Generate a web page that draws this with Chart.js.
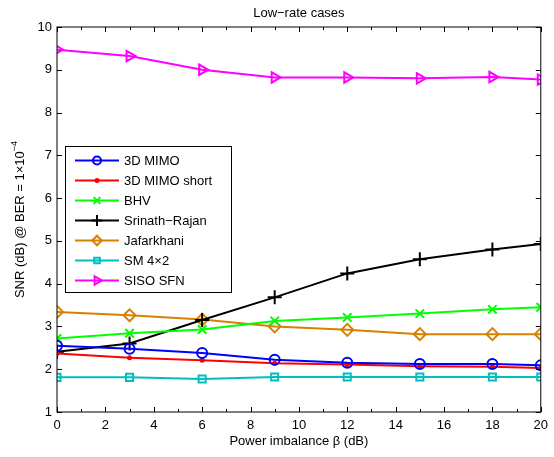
<!DOCTYPE html>
<html>
<head>
<meta charset="utf-8">
<script src="https://cdn.jsdelivr.net/npm/chart.js@4/dist/chart.umd.min.js"></script>
<style>
  html, body { margin: 0; padding: 0; background: #fff; }
  #wrap { width: 554px; height: 457px; }
</style>
</head>
<body>
<div id="wrap"><canvas id="myChart" width="554" height="457"></canvas></div>
<script>
const imbalance = [0, 3, 6, 9, 12, 15, 18, 20];
const xTicks = [0, 2, 4, 6, 8, 10, 12, 14, 16, 18, 20];
const yTicks = [1, 2, 3, 4, 5, 6, 7, 8, 9, 10];

const mimo3d      = [2.55, 2.48, 2.38, 2.22, 2.15, 2.12, 2.12, 2.09];
const mimo3dShort = [2.37, 2.27, 2.21, 2.14, 2.11, 2.07, 2.06, 2.03];
const bhv         = [2.72, 2.84, 2.93, 3.13, 3.21, 3.30, 3.40, 3.45];
const srinath     = [2.41, 2.60, 3.15, 3.68, 4.24, 4.57, 4.80, 4.93];
const jafarkhani  = [3.34, 3.26, 3.16, 3.00, 2.92, 2.82, 2.82, 2.82];
const sm42        = [1.81, 1.81, 1.77, 1.82, 1.82, 1.82, 1.82, 1.82];
const sisoSfn     = [9.47, 9.32, 9.00, 8.82, 8.82, 8.80, 8.83, 8.77];

const FONT = 'Liberation Sans, Arial, Helvetica, sans-serif';

function series(label, data, color, style, radius, rotation) {
    const dot = radius < 3;
    return {
        label: label,
        data: data.map((v, i) => ({ x: imbalance[i], y: v })),
        borderColor: color,
        backgroundColor: color,
        borderWidth: 2,
        pointStyle: style,
        pointRadius: radius,
        pointRotation: rotation || 0,
        pointBorderColor: color,
        pointBackgroundColor: dot ? color : 'rgba(0,0,0,0)',
        pointBorderWidth: 2,
        tension: 0
    };
}

const datasets = [
    series('3D MIMO', mimo3d, '#0000ff', 'circle', 5),
    series('3D MIMO short', mimo3dShort, '#ff0000', 'circle', 1.5),
    series('BHV', bhv, '#00ff00', 'crossRot', 6),
    series('Srinath\u2212Rajan', srinath, '#000000', 'cross', 7),
    series('Jafarkhani', jafarkhani, '#d98000', 'rectRot', 6),
    series('SM 4\u00d72', sm42, '#00bfbf', 'rect', 5),
    series('SISO SFN', sisoSfn, '#ff00ff', 'triangle', 6, 90)
];

// MATLAB style frame, inward ticks, title, y label and legend
const matlabFrame = {
    id: 'matlabFrame',
    afterDraw(chart) {
        const c = chart.ctx;
        const a = chart.chartArea;
        const xs = chart.scales.x, ys = chart.scales.y;
        c.save();
        c.strokeStyle = '#000';
        c.lineWidth = 1;
        c.strokeRect(a.left, a.top, a.right - a.left, a.bottom - a.top);
        c.beginPath();
        xTicks.forEach(t => {
            const px = Math.round(xs.getPixelForValue(t)) + 0.5;
            c.moveTo(px, a.bottom); c.lineTo(px, a.bottom - 5);
            c.moveTo(px, a.top); c.lineTo(px, a.top + 5);
        });
        for (let t = 1; t < 20; t += 2) {
            const px = Math.round(xs.getPixelForValue(t)) + 0.5;
            c.moveTo(px, a.bottom); c.lineTo(px, a.bottom - 3);
            c.moveTo(px, a.top); c.lineTo(px, a.top + 3);
        }
        yTicks.forEach(t => {
            const py = Math.round(ys.getPixelForValue(t)) + 0.5;
            c.moveTo(a.left, py); c.lineTo(a.left + 5, py);
            c.moveTo(a.right, py); c.lineTo(a.right - 5, py);
        });
        c.stroke();

        // title
        c.fillStyle = '#000';
        c.font = '13px ' + FONT;
        c.textAlign = 'center';
        c.textBaseline = 'middle';
        c.fillText('Low\u2212rate cases', (a.left + a.right) / 2, 13);

        // x title
        c.fillText('Power imbalance \u03b2 (dB)', (a.left + a.right) / 2, 441);

        // y title with superscript
        c.translate(20, (a.top + a.bottom) / 2);
        c.rotate(-Math.PI / 2);
        const main = 'SNR (dB) @ BER = 1\u00d710';
        c.font = '13px ' + FONT;
        const w1 = c.measureText(main).width;
        c.font = '9px ' + FONT;
        const w2 = c.measureText('\u22124').width;
        const start = -(w1 + w2) / 2;
        c.textAlign = 'left';
        c.font = '13px ' + FONT;
        c.fillText(main, start, 0);
        c.font = '9px ' + FONT;
        c.fillText('\u22124', start + w1, -5);
        c.restore();

        // legend
        c.save();
        const bx = 65.5, by = 146.5, bw = 166, bh = 146;
        c.fillStyle = '#fff';
        c.fillRect(bx, by, bw, bh);
        c.strokeStyle = '#000';
        c.lineWidth = 1;
        c.strokeRect(bx, by, bw, bh);
        c.font = '13px ' + FONT;
        c.textAlign = 'left';
        c.textBaseline = 'middle';
        chart.data.datasets.forEach((ds, i) => {
            const y = 160.5 + i * 20;
            c.strokeStyle = ds.borderColor;
            c.lineWidth = 2;
            c.beginPath();
            c.moveTo(75, y); c.lineTo(119, y);
            c.stroke();
            c.fillStyle = ds.pointBackgroundColor;
            c.strokeStyle = ds.borderColor;
            c.lineWidth = 2;
            Chart.helpers.drawPoint(c, {
                pointStyle: ds.pointStyle,
                radius: ds.pointRadius < 3 ? ds.pointRadius : ds.pointRadius * 0.8,
                rotation: ds.pointRotation,
                borderWidth: 2
            }, 97, y);
            c.fillStyle = '#000';
            c.fillText(ds.label, 124, y + 1);
        });
        c.restore();
    }
};

const ctx = document.getElementById('myChart').getContext('2d');
const chart = new Chart(ctx, {
    type: 'line',
    data: { datasets: datasets },
    options: {
        responsive: false,
        animation: false,
        layout: { padding: { top: 27, right: 11, left: 0, bottom: 0 } },
        plugins: { legend: { display: false }, tooltip: { enabled: false } },
        scales: {
            x: {
                type: 'linear',
                min: 0, max: 20,
                afterFit: s => { s.height = 45; },
                afterBuildTicks: s => { s.ticks = xTicks.map(v => ({ value: v })); },
                grid: { display: false, drawTicks: false },
                border: { display: false },
                ticks: { color: '#000', font: { size: 13, family: FONT }, padding: 6, maxRotation: 0 }
            },
            y: {
                min: 1, max: 10,
                afterFit: s => { s.width = 57; },
                afterBuildTicks: s => { s.ticks = yTicks.map(v => ({ value: v })); },
                grid: { display: false, drawTicks: false },
                border: { display: false },
                ticks: { color: '#000', font: { size: 13, family: FONT }, padding: 5 }
            }
        }
    },
    plugins: [matlabFrame]
});
</script>
</body>
</html>
